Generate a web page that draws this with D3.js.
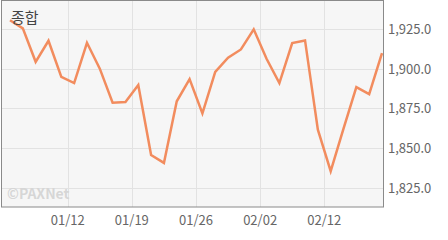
<!DOCTYPE html>
<html lang="ko">
  <head>
    <style>
      body { margin: 0; background: #fff; }
      text { font-family: "Noto Sans CJK KR", "Noto Sans", sans-serif; }
      .grid line { stroke: #e2e2e2; stroke-width: 1; }
    </style>
  </head>
  <body>
    <svg id="container" width="448" height="240"></svg>
  </body>
  <script src="https://d3js.org/d3.v7.min.js"></script>
  <script>
// trading days, KOSPI close
let dates = ["01/05","01/06","01/07","01/08","01/11","01/12","01/13","01/14","01/15","01/18",
             "01/19","01/20","01/21","01/22","01/25","01/26","01/27","01/28","01/29","02/01",
             "02/02","02/03","02/04","02/05","02/11","02/12","02/15","02/16","02/17","02/18"]
let values = [1930.5,1925.4,1904.3,1917.6,1894.8,1890.9,1916.3,1900.0,1878.5,1878.9,
              1889.6,1845.5,1840.5,1879.4,1893.4,1871.7,1897.9,1906.9,1912.1,1924.8,
              1906.2,1890.9,1916.1,1917.8,1861.5,1835.3,1862.2,1888.3,1883.9,1909.8]
let xTicks = ["01/12","01/19","01/26","02/02","02/12"]
let yTicks = [1825, 1850, 1875, 1900, 1925]

let svg = d3.select("#container")
let plotL = 1, plotR = 384, plotT = 0, plotB = 207

let x = d3.scalePoint().domain(dates).range([10, 382])
let y = d3.scaleLinear().domain([1825, 1925]).range([187.5, 29])

// plot background
svg.append("rect")
    .attr("x", plotL).attr("y", plotT)
    .attr("width", plotR - plotL).attr("height", plotB - plotT)
    .attr("fill", "#f6f6f6")

let grid = svg.append("g").attr("class", "grid")
grid.selectAll(".h")
    .data(yTicks)
    .enter()
    .append("line")
        .attr("x1", plotL).attr("x2", plotR)
        .attr("y1", d => Math.round(y(d)) + 0.5)
        .attr("y2", d => Math.round(y(d)) + 0.5)
grid.selectAll(".v")
    .data(xTicks)
    .enter()
    .append("line")
        .attr("x1", d => Math.round(x(d) - x.step() / 2) + 0.5)
        .attr("x2", d => Math.round(x(d) - x.step() / 2) + 0.5)
        .attr("y1", plotT).attr("y2", plotB)

// watermark
svg.append("text")
    .attr("x", 7).attr("y", 199)
    .attr("font-size", 14)
    .attr("font-weight", "bold")
    .attr("fill", "#d6d6d6")
    .text("©PAXNet")

let line = d3.line()
    .x(d => x(d.date))
    .y(d => y(d.value))

svg.append("path")
    .datum(dates.map((d, i) => ({date: d, value: values[i]})))
    .attr("fill", "none")
    .attr("stroke", "#f28c5e")
    .attr("stroke-width", 2.5)
    .attr("stroke-linejoin", "miter")
    .attr("d", line)

svg.append("rect")
    .attr("x", plotL + 0.5).attr("y", plotT + 0.5)
    .attr("width", plotR - plotL - 1).attr("height", plotB - plotT - 0.5)
    .attr("fill", "none")
    .attr("stroke", "#8a8a8a")
    .attr("stroke-width", 1)

svg.append("text")
    .attr("x", 11).attr("y", 23)
    .attr("font-size", 15)
    .attr("fill", "#444")
    .text("종합")

// x labels
svg.selectAll(".xl")
    .data(xTicks)
    .enter()
    .append("text")
        .attr("x", d => x(d) - x.step() / 2)
        .attr("y", 225)
        .attr("text-anchor", "middle")
        .attr("font-size", 13)
        .attr("fill", "#666")
        .text(d => d)

// y labels
let fmt = d3.format(",.1f")
svg.selectAll(".yl")
    .data(yTicks)
    .enter()
    .append("text")
        .attr("x", 388)
        .attr("y", d => y(d) + 5)
        .attr("font-size", 13)
        .attr("fill", "#666")
        .text(d => fmt(d))
  </script>
</html>
